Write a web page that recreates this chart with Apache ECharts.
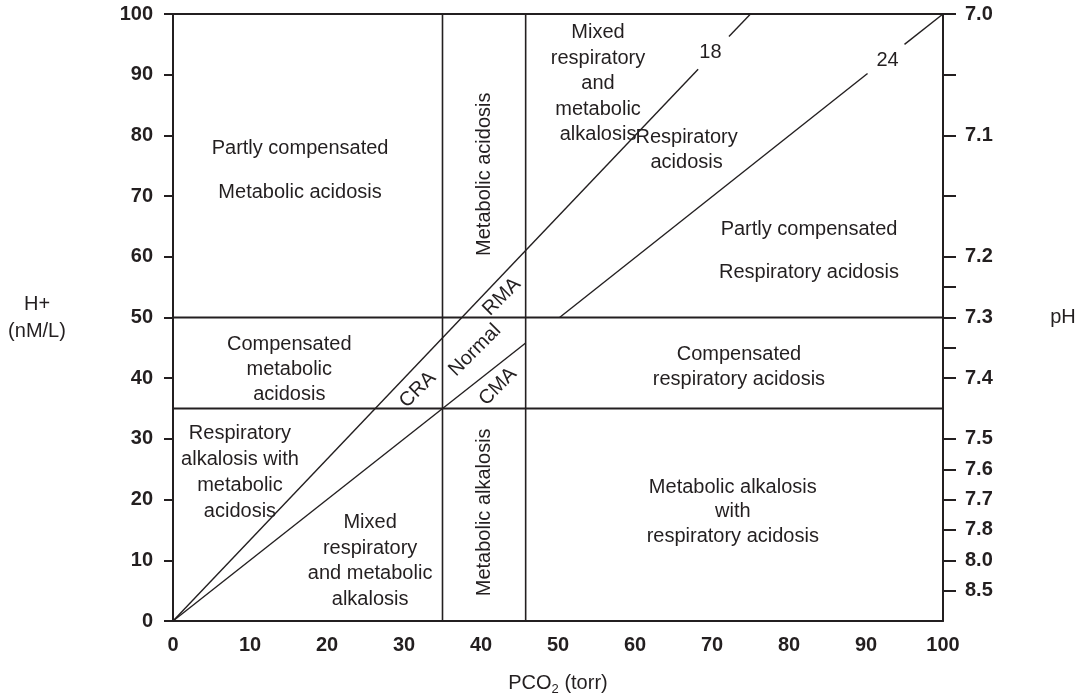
<!DOCTYPE html>
<html><head><meta charset="utf-8">
<script src="https://cdn.jsdelivr.net/npm/echarts@6/dist/echarts.min.js"></script>
<style>html,body{margin:0;padding:0;background:#fff}#c{width:1084px;height:697px}</style>
</head><body><div id="c"></div>
<script>
// ---- data ----
const pco2Range = [0, 100];          // x axis (torr)
const hRange = [0, 100];             // left y axis H+ (nM/L)
const axisInterval = 10;
const phTickValues = [100, 80, 60, 50, 40, 30, 25, 20, 15, 10, 5];
const phLabels = ['7.0', '7.1', '7.2', '7.3', '7.4', '7.5', '7.6', '7.7', '7.8', '8.0', '8.5'];
const phMinorTicks = [90, 70, 55, 45];

// isobars (HCO3- = 18 and 24), split where their labels sit
const line18Segments = [[[0, 0], [68.2, 90.9]], [[72.2, 96.3], [75, 100]]];
const line24Segments = [[[0, 0], [45.8, 45.8]], [[50.2, 50], [90.2, 90.2]], [[95, 95], [100, 100]]];
// boundaries
const pco2Limits = [35, 45.8];
const hLimits = [50, 35];
const hLimitEnds = [100, 102.4];

// annotations
const noteTexts = [
  'Partly compensated\nMetabolic acidosis',
  'Metabolic acidosis',
  'Mixed\nrespiratory\nand\nmetabolic\nalkalosis',
  'Respiratory\nacidosis',
  'Partly compensated\nRespiratory acidosis',
  'Compensated\nmetabolic\nacidosis',
  'Compensated\nrespiratory acidosis',
  'Respiratory\nalkalosis with\nmetabolic\nacidosis',
  'Mixed\nrespiratory\nand metabolic\nalkalosis',
  'Metabolic alkalosis',
  'Metabolic alkalosis\nwith\nrespiratory acidosis',
  'CRA', 'Normal', 'RMA', 'CMA', '18', '24'
];
const noteX = [16.5, 40.4, 55.2, 66.7, 82.6, 15.1, 73.5, 8.7, 25.6, 40.4, 72.7, 31.8, 39.2, 42.7, 42.2, 69.8, 92.8];
const noteY = [74.3, 73.6, 88.5, 77.6, 61.0, 41.5, 41.8, 24.5, 9.9, 17.9, 18.0, 38.1, 44.6, 53.4, 38.6, 93.6, 92.4];
const noteRotate = [0, 90, 0, 0, 0, 0, 0, 0, 0, 90, 0, 45, 45, 45, 45, 0, 0];
const noteLineHeight = [44, 25, 25.5, 25, 43, 25, 25, 26, 25.5, 25, 24.5, 25, 25, 25, 25, 25, 25];

// ---- chart ----
const INK = '#231f20';
const FONT = '"Liberation Sans", Arial, Helvetica, sans-serif';

function seg(data, width) {
  return {
    type: 'line', data: data, showSymbol: false, symbol: 'none', silent: true,
    xAxisIndex: 0, yAxisIndex: 0, animation: false, clip: false, z: 3,
    lineStyle: { color: INK, width: width }
  };
}

const series = [];
line18Segments.forEach(s => series.push(seg(s, 1.4)));
line24Segments.forEach(s => series.push(seg(s, 1.4)));
pco2Limits.forEach(x => series.push(seg([[x, hRange[0]], [x, hRange[1]]], 1.6)));
hLimits.forEach((y, i) => series.push(seg([[pco2Range[0], y], [hLimitEnds[i], y]], 2)));

series.push({
  type: 'scatter', symbolSize: 0, silent: true, animation: false, z: 5,
  itemStyle: { opacity: 1, color: INK },
  data: noteTexts.map((t, i) => ({
    name: t, value: [noteX[i], noteY[i]],
    label: { rotate: noteRotate[i], lineHeight: noteLineHeight[i] }
  })),
  label: {
    show: true, position: 'inside', formatter: '{b}', color: INK,
    fontFamily: FONT, fontSize: 20, align: 'center', verticalAlign: 'middle'
  }
});

const chart = echarts.init(document.getElementById('c'), null, { renderer: 'canvas' });
chart.setOption({
  animation: false,
  backgroundColor: '#fff',
  grid: { left: 173, right: 141, top: 14, bottom: 76, outerBoundsMode: 'none', containLabel: false },
  xAxis: [{
    type: 'value', min: pco2Range[0], max: pco2Range[1], interval: axisInterval,
    position: 'bottom',
    name: '{a|PCO}{s|2}{a| (torr)}', nameLocation: 'middle', nameGap: 62,
    nameTextStyle: {
      align: 'center', verticalAlign: 'middle',
      rich: {
        a: { fontFamily: FONT, fontSize: 20, color: INK },
        s: { fontFamily: FONT, fontSize: 13, color: INK, verticalAlign: 'bottom', padding: [12, 0, 0, 0] }
      }
    },
    axisLine: { show: true, onZero: false, lineStyle: { color: INK, width: 2 } },
    axisTick: { show: false },
    splitLine: { show: false },
    axisLabel: { color: INK, fontFamily: FONT, fontSize: 20, fontWeight: 'bold', margin: 14 }
  }, {
    type: 'value', min: pco2Range[0], max: pco2Range[1], position: 'top',
    axisLine: { show: true, onZero: false, lineStyle: { color: INK, width: 2 } },
    axisTick: { show: false }, axisLabel: { show: false }, splitLine: { show: false }
  }],
  yAxis: [{
    type: 'value', min: hRange[0], max: hRange[1], interval: axisInterval, position: 'left',
    name: 'H+\n(nM/L)', nameLocation: 'middle', nameGap: 136, nameRotate: 0,
    nameTextStyle: { color: INK, fontFamily: FONT, fontSize: 20, align: 'center', verticalAlign: 'middle', lineHeight: 27 },
    axisLine: { show: true, onZero: false, lineStyle: { color: INK, width: 2 } },
    axisTick: { show: true, length: 9, lineStyle: { color: INK, width: 2 } },
    splitLine: { show: false },
    axisLabel: { color: INK, fontFamily: FONT, fontSize: 20, fontWeight: 'bold', margin: 20 }
  }, {
    type: 'value', min: hRange[0], max: hRange[1], position: 'right',
    name: 'pH', nameLocation: 'middle', nameGap: 120, nameRotate: 0,
    nameTextStyle: { color: INK, fontFamily: FONT, fontSize: 20, align: 'center', verticalAlign: 'middle', padding: [6, 0, 0, 0] },
    axisLine: { show: true, onZero: false, lineStyle: { color: INK, width: 2 } },
    axisTick: { show: true, length: 13, customValues: phTickValues.concat(phMinorTicks), lineStyle: { color: INK, width: 2 } },
    splitLine: { show: false },
    axisLabel: {
      color: INK, fontFamily: FONT, fontSize: 20, fontWeight: 'bold', margin: 22,
      customValues: phTickValues,
      formatter: v => { const i = phTickValues.indexOf(v); return i >= 0 ? phLabels[i] : ''; }
    }
  }],
  series: series
});
</script></body></html>
